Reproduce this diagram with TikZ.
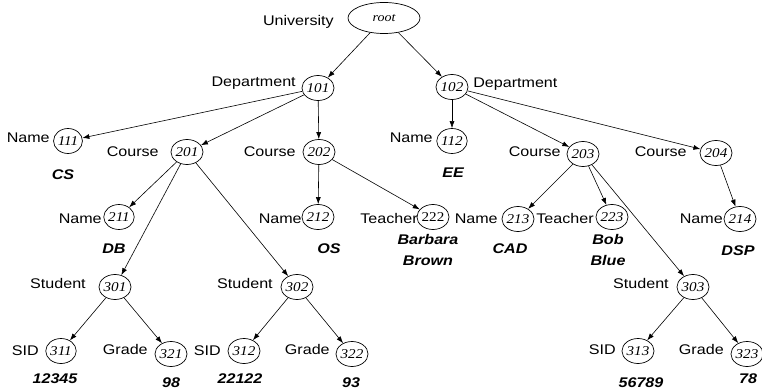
\documentclass[tikz,border=0pt]{standalone}
\usepackage{fontspec}
\usetikzlibrary{shapes.geometric, arrows.meta}

\newfontfamily\lblfam[FakeStretch=1.15]{Liberation Sans}
\newfontfamily\numfam[FakeStretch=1.12]{Liberation Serif}

\tikzset{
  obj/.style={ellipse, draw, line width=0.7pt, minimum width=28pt, minimum height=25pt,
    inner sep=0pt, font=\numfam\itshape\fontsize{13.5}{15}\selectfont},
  lbl/.style={anchor=base east, inner sep=0pt, font=\lblfam\fontsize{14}{16}\selectfont},
  val/.style={anchor=base, inner sep=0pt, align=center,
    font=\lblfam\bfseries\itshape\fontsize{14}{21}\selectfont},
}

\begin{document}
\begin{tikzpicture}[x=1pt, y=-1pt, >={Latex[length=7pt,width=5pt]}, line width=0.6pt]
    \useasboundingbox (0,0) rectangle (762,390);

    % object nodes
    \node [obj, minimum width=72pt, minimum height=31pt, font=\numfam\itshape\fontsize{12.5}{14}\selectfont] (root) at (384,18) {root};
    \node [obj] (n101) at (318,88) {101};
    \node [obj] (n102) at (452,87) {102};
    \node [obj] (n111) at (68,141) {111};
    \node [obj] (n112) at (452,141) {112};
    \node [obj] (n201) at (187,152) {201};
    \node [obj] (n202) at (319,152) {202};
    \node [obj] (n203) at (583,154) {203};
    \node [obj] (n204) at (716,153) {204};
    \node [obj] (n211) at (119,217) {211};
    \node [obj] (n212) at (318,217) {212};
    \node [obj, font=\numfam\fontsize{13.5}{15}\selectfont] (n222) at (433,217) {222};
    \node [obj] (n213) at (518,219) {213};
    \node [obj] (n223) at (612,217) {223};
    \node [obj] (n214) at (740,219) {214};
    \node [obj] (n301) at (115,287) {301};
    \node [obj] (n302) at (297,287) {302};
    \node [obj] (n303) at (693,287) {303};
    \node [obj] (n311) at (61,351) {311};
    \node [obj] (n321) at (171,354) {321};
    \node [obj] (n312) at (244,351) {312};
    \node [obj] (n322) at (352,354) {322};
    \node [obj] (n313) at (638,351) {313};
    \node [obj] (n323) at (747,354) {323};

    % tag names
    \node [lbl] (tRoot) at (334,26) {University};
    \node [lbl] (t101) at (296,87) {Department};
    \node [lbl, anchor=base west] (t102) at (473,88) {Department};
    \node [lbl] (t111) at (50,143) {Name};
    \node [lbl] (t112) at (433,143) {Name};
    \node [lbl] (t201) at (159,157) {Course};
    \node [lbl] (t202) at (296,157) {Course};
    \node [lbl] (t203) at (561,157) {Course};
    \node [lbl] (t204) at (687,157) {Course};
    \node [lbl] (t211) at (102,223) {Name};
    \node [lbl] (t212) at (302,223) {Name};
    \node [lbl] (t222) at (418,223) {Teacher};
    \node [lbl] (t213) at (498,223) {Name};
    \node [lbl] (t223) at (594,223) {Teacher};
    \node [lbl] (t214) at (723,223) {Name};
    \node [lbl] (t301) at (86,288) {Student};
    \node [lbl] (t302) at (273,288) {Student};
    \node [lbl] (t303) at (669,288) {Student};
    \node [lbl] (t311) at (39,355) {SID};
    \node [lbl] (t321) at (148,354) {Grade};
    \node [lbl] (t312) at (221,355) {SID};
    \node [lbl] (t322) at (330,354) {Grade};
    \node [lbl] (t313) at (616,354) {SID};
    \node [lbl] (t323) at (724,354) {Grade};

    % values
    \node [val] (v111) at (63,179) {CS};
    \node [val] (v112) at (453,178) {EE};
    \node [val] (v211) at (114,253) {DB};
    \node [val] (v212) at (329,253) {OS};
    \node [val, anchor=center] (v222) at (428,250) {Barbara\\Brown};
    \node [val] (v213) at (510,253) {CAD};
    \node [val, anchor=center] (v223) at (608,250) {Bob\\Blue};
    \node [val] (v214) at (738,255) {DSP};
    \node [val] (v311) at (55,383) {12345};
    \node [val] (v321) at (171,387) {98};
    \node [val] (v312) at (240,383) {22122};
    \node [val] (v322) at (351,387) {93};
    \node [val] (v313) at (641,387) {56789};
    \node [val] (v323) at (748,383) {78};

    % edges
    \draw[->] (root) -- (n101);
    \draw[->] (root) -- (n102);
    \draw[->] (n101) -- (n111);
    \draw[->] (n101) -- (n201);
    \draw[->] (n101) -- (n202);
    \draw[->] (n102) -- (n112);
    \draw[->] (n102) -- (n203);
    \draw[->] (n102) -- (n204);
    \draw[->] (n201) -- (n211);
    \draw[->] (n201) -- (n301);
    \draw[->] (n201) -- (n302);
    \draw[->] (n202) -- (n212);
    \draw[->] (n202) -- (n222);
    \draw[->] (n203) -- (n213);
    \draw[->] (n203) -- (n223);
    \draw[->] (n203) -- (n303);
    \draw[->] (n204) -- (n214);
    \draw[->] (n301) -- (n311);
    \draw[->] (n301) -- (n321);
    \draw[->] (n302) -- (n312);
    \draw[->] (n302) -- (n322);
    \draw[->] (n303) -- (n313);
    \draw[->] (n303) -- (n323);
\end{tikzpicture}
\end{document}
